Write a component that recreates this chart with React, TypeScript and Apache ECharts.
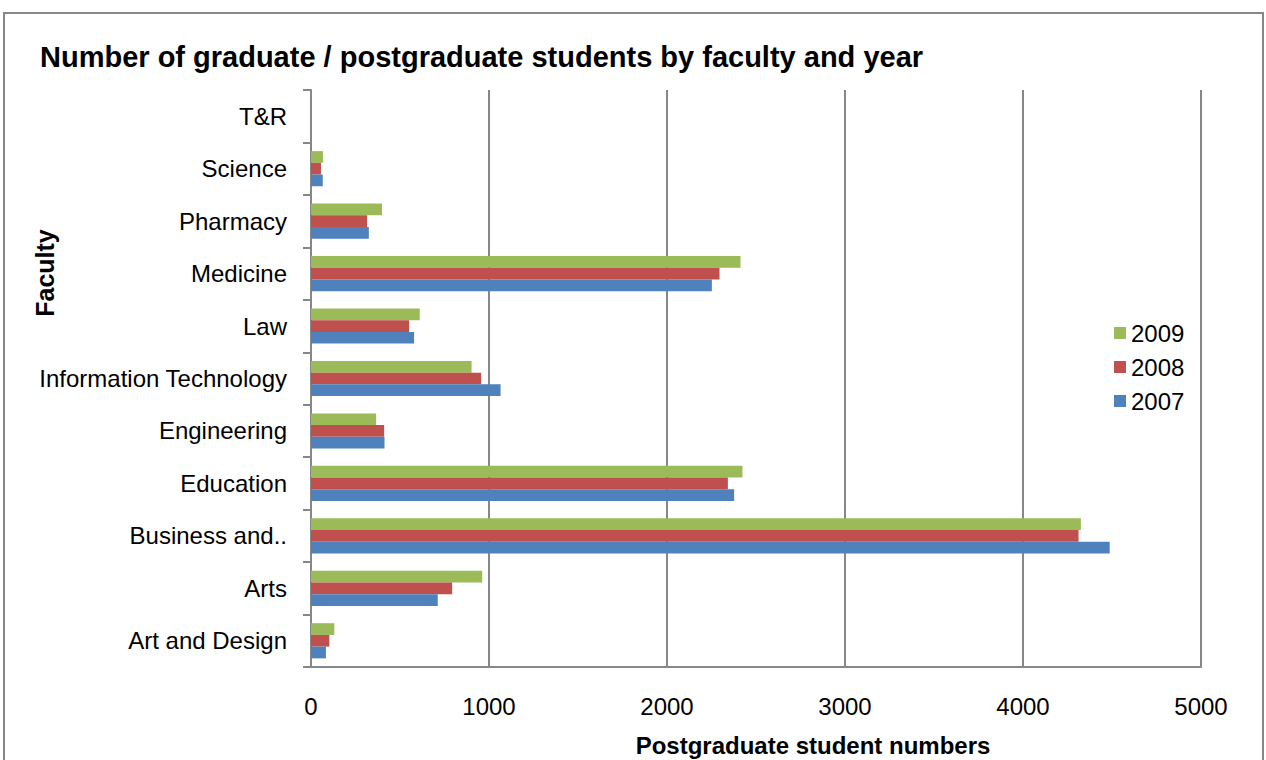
import React, { useEffect, useRef } from "react";
import * as echarts from "echarts";

const categories = [
  "Art and Design",
  "Arts",
  "Business and..",
  "Education",
  "Engineering",
  "Information Technology",
  "Law",
  "Medicine",
  "Pharmacy",
  "Science",
  "T&R",
];
const values2009 = [131, 962, 4325, 2424, 366, 902, 611, 2413, 399, 67, 0];
const values2008 = [103, 793, 4312, 2342, 411, 956, 551, 2295, 315, 56, 0];
const values2007 = [84, 712, 4487, 2377, 413, 1065, 579, 2252, 325, 66, 0];
const xTicks = [0, 1000, 2000, 3000, 4000, 5000];

const FONT = "'Liberation Sans', Arial, sans-serif";

export default function App() {
  const ref = useRef<HTMLDivElement>(null);
  useEffect(() => {
    if (!ref.current) return;
    const chart = echarts.init(ref.current, null, { renderer: "svg" });
    const bar = (name: string, data: number[], color: string) => ({
      name,
      type: "bar",
      data,
      barGap: "0%",
      barCategoryGap: "33%",
      itemStyle: { color },
    });
    chart.setOption({
      animation: false,
      backgroundColor: "#ffffff",
      textStyle: { fontFamily: FONT },
      title: {
        text: "Number of graduate / postgraduate students by faculty and year",
        left: 40,
        top: 42,
        padding: 0,
        textStyle: { fontFamily: FONT, fontSize: 29, fontWeight: "bold", color: "#000" },
      },
      legend: {
        orient: "vertical",
        left: 1114,
        top: 321,
        itemWidth: 12,
        itemHeight: 12,
        itemGap: 10,
        padding: 0,
        icon: "rect",
        data: ["2009", "2008", "2007"],
        textStyle: { fontFamily: FONT, fontSize: 24, color: "#000" },
      },
      grid: { left: 311, right: 65, top: 90, bottom: 93, containLabel: false },
      xAxis: {
        type: "value",
        min: xTicks[0],
        max: xTicks[xTicks.length - 1],
        interval: 1000,
        axisLine: { show: true, lineStyle: { color: "#878787", width: 2 } },
        axisTick: { show: false },
        axisLabel: {
          fontFamily: FONT,
          fontSize: 24,
          color: "#000",
          margin: 27,
          formatter: (v: number) => String(v),
        },
        splitLine: { show: true, lineStyle: { color: "#878787", width: 2 } },
      },
      yAxis: {
        type: "category",
        data: categories,
        axisLine: { show: true, lineStyle: { color: "#878787", width: 2 } },
        axisTick: { show: true, length: 8, lineStyle: { color: "#878787", width: 2 } },
        axisLabel: { fontFamily: FONT, fontSize: 24, color: "#000", margin: 24 },
        splitLine: { show: false },
      },
      graphic: [
        {
          type: "rect",
          shape: { x: 4, y: 13, width: 1259, height: 800 },
          style: { fill: "none", stroke: "#878787", lineWidth: 2 },
          silent: true,
        },
        {
          type: "text",
          x: 45,
          y: 273,
          rotation: Math.PI / 2,
          style: {
            text: "Faculty",
            font: `bold 25px ${FONT}`,
            fill: "#000",
            align: "center",
            verticalAlign: "middle",
          },
        },
        {
          type: "text",
          x: 813,
          y: 745,
          style: {
            text: "Postgraduate student numbers",
            font: `bold 24px ${FONT}`,
            fill: "#000",
            align: "center",
            verticalAlign: "middle",
          },
        },
      ],
      series: [
        bar("2009", values2009, "#9BBB59"),
        bar("2008", values2008, "#C0504D"),
        bar("2007", values2007, "#4F81BD"),
      ],
    });
    return () => chart.dispose();
  }, []);
  return (
    <div
      ref={ref}
      style={{ position: "absolute", left: 0, top: 0, width: 1266, height: 760 }}
    />
  );
}
